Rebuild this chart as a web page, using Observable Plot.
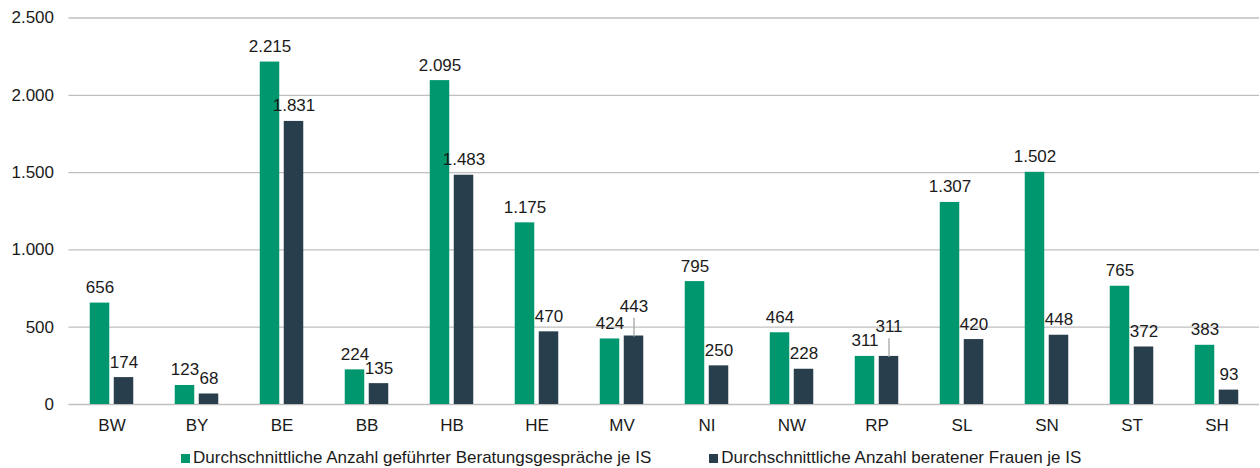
<!DOCTYPE html>
<html><head><meta charset="utf-8">
<script src="https://cdn.jsdelivr.net/npm/d3@7"></script>
<script src="https://cdn.jsdelivr.net/npm/@observablehq/plot@0.6"></script>
<style>
html,body{margin:0;padding:0;background:#fff;font-family:"Liberation Sans",Arial,sans-serif;overflow:hidden}
#chart svg{display:block}
#legend{display:flex;align-items:center;height:28px;margin-top:4px;padding-left:181px;font-size:17px;color:#1a1a1a;white-space:nowrap}
.item{display:flex;align-items:center;margin-right:58px}
.sw{width:9px;height:9px;margin-right:3px;flex:none}
</style></head><body><div id="chart"></div><div id="legend"></div>
<script>
const states = ["BW","BY","BE","BB","HB","HE","MV","NI","NW","RP","SL","SN","ST","SH"];
const gespraeche = [656,123,2215,224,2095,1175,424,795,464,311,1307,1502,765,383];
const frauen = [174,68,1831,135,1483,470,443,250,228,311,420,448,372,93];
const seriesNames = ["Durchschnittliche Anzahl geführter Beratungsgespräche je IS","Durchschnittliche Anzahl beratener Frauen je IS"];
const colors = ["#00966e","#283e4c"];
const yTicks = [0,500,1000,1500,2000,2500];

const de = d3.formatLocale({decimal:",", thousands:".", grouping:[3], currency:["","€"]});
const fmt = de.format(",d");
const rowsG = states.map((s,i)=>({state:s, value:gespraeche[i]}));
const rowsF = states.map((s,i)=>({state:s, value:frauen[i], lifted: Math.abs(frauen[i]-gespraeche[i]) < 30}));
const leader = {draw(context, l){ context.moveTo(0,0); context.lineTo(0,-l); }};
const textColor = "#1a1a1a";

const plot = Plot.plot({
  width:1260, height:440, marginLeft:68.5, marginRight:1, marginTop:17.5, marginBottom:36,
  style:{fontFamily:"'Liberation Sans', Arial, sans-serif", fontSize:"17px", color:textColor, background:"#fff"},
  x:{domain:states, padding:0, label:null},
  y:{domain:[0,2500], label:null},
  marks:[
    Plot.gridY(yTicks,{stroke:"#bfbfbf", strokeOpacity:1, strokeWidth:1.3}),
    Plot.axisY(yTicks,{tickFormat:fmt, tickSize:0, tickPadding:15, label:null, fill:textColor}),
    Plot.axisX({tickSize:0, tickPadding:14, label:null, fill:textColor}),
    Plot.barY(rowsG,{x:"state", y:"value", fill:colors[0], insetLeft:20.75, insetRight:44.75}),
    Plot.barY(rowsF,{x:"state", y:"value", fill:colors[1], insetLeft:44.75, insetRight:20.75}),
    Plot.text(rowsG,{x:"state", y:"value", text:d=>fmt(d.value), dx:-12, dy:-10, lineAnchor:"bottom", fill:textColor}),
    Plot.text(rowsF.filter(d=>!d.lifted),{x:"state", y:"value", text:d=>fmt(d.value), dx:12, dy:-10, lineAnchor:"bottom", fill:textColor}),
    Plot.text(rowsF.filter(d=>d.lifted),{x:"state", y:"value", text:d=>fmt(d.value), dx:12, dy:-24, lineAnchor:"bottom", fill:textColor}),
    Plot.vector(rowsF.filter(d=>d.lifted),{x:"state", y:"value", length:17.7, rotate:0, anchor:"start", shape:leader, stroke:"#a6a6a6", strokeWidth:1.3, dx:12})
  ]
});
document.getElementById("chart").appendChild(plot);

const legend = document.getElementById("legend");
seriesNames.forEach((n,i)=>{
  const it = document.createElement("div"); it.className="item";
  const sw = document.createElement("span"); sw.className="sw"; sw.style.background=colors[i];
  const tx = document.createElement("span"); tx.textContent=n;
  it.appendChild(sw); it.appendChild(tx); legend.appendChild(it);
});
</script></body></html>
